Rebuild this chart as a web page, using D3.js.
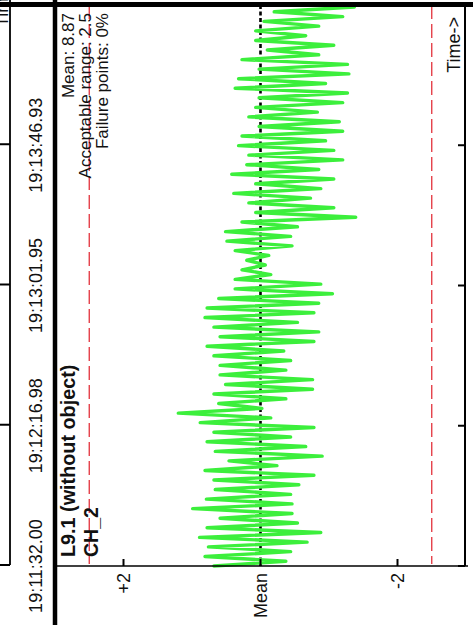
<!DOCTYPE html>
<html><head><meta charset="utf-8">
<script src="https://cdn.jsdelivr.net/npm/d3@7"></script>
<style>html,body{margin:0;padding:0;background:#fff;} svg{display:block;}</style>
</head><body><svg id="c" width="473" height="625"></svg>
<script>
const title = "L9.1 (without object)";
const channel = "CH_2";
const statLines = ["Mean: 8.87", "Acceptable range: 2.5", "Failure points: 0%"];
const timeTickLabels = ["19:11:32.00", "19:12:16.98", "19:13:01.95", "19:13:46.93"];
const timeDomain = ["19:11:32.00", "19:14:31.90"];
const sampleSpan = ["19:11:32.00", "19:14:31.25"];
const valueTicks = [2, 0, -2];
const valueTickLabels = ["+2", "Mean", "-2"];
const acceptableRange = 2.5;
const timeLabel = "Time->";
// deviation from mean, in sample order (earliest first)
const deviation = [
  0.68, -0.37, 0.81, -0.44, 0.76, -0.68, 0.89, -0.88, 0.78, -0.54, 0.59, -0.46, 0.99, -0.46, 0.79, -0.44,
  0.66, -0.56, 0.68, -0.78, 0.81, -0.24, 0.46, -0.90, 0.66, -0.66, 0.78, -0.44, 0.68, -0.78, 0.88,
  -0.15, 1.20, -0.02, 0.61, -0.37, 0.68, -0.76, 0.51, -0.76, 0.59, -0.37, 0.59, -0.44, 0.68, -0.34,
  0.78, -0.78, 0.59, -0.85, 0.68, -0.54, 0.81, -0.78, 0.78, -0.85, 0.61, -1.05, 0.37, -0.88,
  0.37, -0.15, 0.27, -0.07, 0.20, -0.12, 0.37, -0.46, 0.49, -0.44, 0.51, -0.54, 0.27, -1.39, 0.07,
  -1.07, 0.17, -0.73, 0.39, -0.88, 0.07, -1.07, 0.42, -0.85, 0.20, -1.20, 0.17, -1.07, 0.32, -0.95, 0.27,
  -1.20, 0.02, -1.15, 0.17, -0.83, 0.07, -1.20, 0.02, -1.27, 0.37, -0.95, 0.32, -1.29, 0.02, -1.27,
  0.27, -0.85, -0.10, -1.07, 0.07, -0.66, 0.07, -0.85, -0.05, -1.20, -0.20, -1.37
];

function parseT(s) {
  const p = s.split(":");
  return new Date(2000, 0, 1, +p[0], +p[1], 0, 0).getTime() + (+p[2]) * 1000;
}

const svg = d3.select("#c");
const FONT = "'Liberation Sans', Arial, sans-serif";
const axisY = 566, topY = 5;

const y = d3.scaleTime().domain(timeDomain.map(parseT)).range([axisY, topY]);
const x = d3.scaleLinear().domain([3, -3]).range([55, 466]);

const s0 = parseT(sampleSpan[0]), s1 = parseT(sampleSpan[1]);
const n = deviation.length;
const data = deviation.map((v, i) => ({ t: s0 + i * (s1 - s0) / (n - 1), v }));

svg.append("rect").attr("width", 473).attr("height", 625).attr("fill", "#fff");

// acceptable range lines
[acceptableRange, -acceptableRange].forEach(r => {
  svg.append("line").attr("x1", x(r)).attr("x2", x(r)).attr("y1", topY).attr("y2", axisY - 2)
    .attr("stroke", "#e3323c").attr("stroke-width", 1.3).attr("stroke-dasharray", "14,5");
});

// mean line
svg.append("line").attr("x1", x(0)).attr("x2", x(0)).attr("y1", topY).attr("y2", axisY)
  .attr("stroke", "#000").attr("stroke-width", 2.6).attr("stroke-dasharray", "4,2.5");

// signal
svg.append("path").datum(data)
  .attr("d", d3.line().x(d => x(d.v)).y(d => y(d.t)))
  .attr("fill", "none").attr("stroke", "#3cef3c").attr("stroke-width", 3.4)
  .attr("stroke-linejoin", "round").attr("stroke-linecap", "round");

// value axis (bottom line)
svg.append("line").attr("x1", 55).attr("x2", 468).attr("y1", axisY).attr("y2", axisY)
  .attr("stroke", "#000").attr("stroke-width", 1.6);
valueTicks.forEach((v, i) => {
  svg.append("line").attr("x1", x(v)).attr("x2", x(v)).attr("y1", axisY).attr("y2", axisY - 7)
    .attr("stroke", "#000").attr("stroke-width", 2);
  svg.append("text").attr("transform", `translate(${x(v) + 6.5},${axisY + 7}) rotate(-90)`)
    .attr("text-anchor", "end").attr("font-family", FONT).attr("font-size", 18).attr("fill", "#111")
    .text(valueTickLabels[i]);
});

// right border with time ticks
svg.append("line").attr("x1", 465).attr("x2", 465).attr("y1", topY).attr("y2", axisY)
  .attr("stroke", "#000").attr("stroke-width", 2);
timeTickLabels.forEach(s => {
  const ty = y(parseT(s));
  svg.append("line").attr("x1", 458).attr("x2", 465).attr("y1", ty).attr("y2", ty)
    .attr("stroke", "#000").attr("stroke-width", 2);
});

// left strip: previous panel border
svg.append("line").attr("x1", 10).attr("x2", 10).attr("y1", 0).attr("y2", axisY - 1)
  .attr("stroke", "#000").attr("stroke-width", 1.8);
timeTickLabels.forEach(s => {
  const ty = y(parseT(s)) - 1;
  svg.append("line").attr("x1", 0).attr("x2", 10).attr("y1", ty).attr("y2", ty)
    .attr("stroke", "#000").attr("stroke-width", 2);
});
svg.append("text").attr("transform", `translate(8,27) rotate(-90)`)
  .attr("text-anchor", "start").attr("font-family", FONT).attr("font-size", 18).attr("fill", "#111")
  .text(timeLabel);

// time tick labels
timeTickLabels.forEach(s => {
  const ty = y(parseT(s));
  svg.append("text").attr("transform", `translate(42,${ty}) rotate(-90)`)
    .attr("text-anchor", "middle").attr("font-family", FONT).attr("font-size", 18).attr("fill", "#111")
    .text(s);
});

// right time label
svg.append("text").attr("transform", `translate(460,17) rotate(-90)`)
  .attr("text-anchor", "end").attr("font-family", FONT).attr("font-size", 18).attr("fill", "#111")
  .text(timeLabel);

// stats
statLines.forEach((s, i) => {
  svg.append("text").attr("transform", `translate(${74 + i * 17},13) rotate(-90)`)
    .attr("text-anchor", "end").attr("font-family", FONT).attr("font-size", 17).attr("fill", "#111")
    .text(s);
});

// title
svg.append("text").attr("transform", `translate(75,557) rotate(-90)`)
  .attr("font-family", FONT).attr("font-size", 19.8).attr("font-weight", "bold").attr("fill", "#111")
  .text(title);
svg.append("text").attr("transform", `translate(98,557) rotate(-90)`)
  .attr("font-family", FONT).attr("font-size", 19.5).attr("font-weight", "bold").attr("fill", "#111")
  .text(channel);

// thick frame lines
svg.append("line").attr("x1", 55).attr("x2", 55).attr("y1", 0).attr("y2", 625)
  .attr("stroke", "#000").attr("stroke-width", 4.5);
svg.append("line").attr("x1", 0).attr("x2", 473).attr("y1", 4.5).attr("y2", 4.5)
  .attr("stroke", "#000").attr("stroke-width", 5);
</script></body></html>
